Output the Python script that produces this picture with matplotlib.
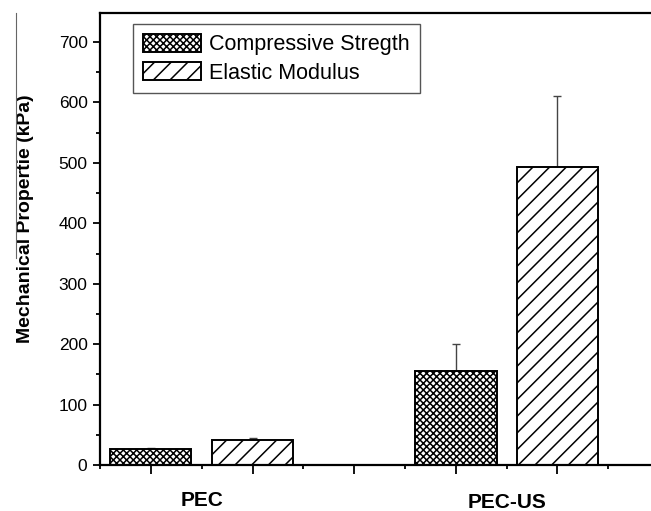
import numpy as np
import matplotlib
matplotlib.use("Agg")
import matplotlib.pyplot as plt
from matplotlib.ticker import MultipleLocator, NullFormatter
from matplotlib.lines import Line2D
from matplotlib.transforms import ScaledTranslation

plt.rcParams['font.family'] = ['Liberation Sans', 'DejaVu Sans']
plt.rcParams['hatch.linewidth'] = 1.1

# data (kPa)
groups = ['PEC', 'PEC-US']
series = ['Compressive Stregth', 'Elastic Modulus']
compressive = [26, 155]
compressive_err = [2, 45]
elastic = [41, 493]
elastic_err = [4, 117]

# bar positions: groups sit on 1,2 and 4,5
comp_x = np.array([1, 4])
elas_x = np.array([2, 5])
group_x = [1.5, 4.5]

fig = plt.figure(figsize=(6.51, 5.11), dpi=100)
W, H = 651, 511
ax = fig.add_axes([100 / W, 46 / H, 610 / W, 452 / H])

bw = 0.8
ax.bar(comp_x, compressive, bw, facecolor='white', edgecolor='black', linewidth=1.4,
       hatch='xxxxx', label=series[0], zorder=2)
ax.bar(elas_x, elastic, bw, facecolor='white', edgecolor='black', linewidth=1.4,
       hatch='//', label=series[1], zorder=2)

# upper error bars only
ax.errorbar(comp_x, compressive, yerr=[np.zeros(2), compressive_err], fmt='none',
            ecolor='#444444', elinewidth=1.0, capsize=3, capthick=1.0, zorder=1)
ax.errorbar(elas_x, elastic, yerr=[np.zeros(2), elastic_err], fmt='none',
            ecolor='#444444', elinewidth=1.0, capsize=3, capthick=1.0, zorder=1)

ax.set_xlim(0.5, 6.5)
ax.set_ylim(0, 748)

ax.xaxis.set_major_locator(MultipleLocator(1))
ax.xaxis.set_minor_locator(MultipleLocator(0.5))
ax.xaxis.set_major_formatter(NullFormatter())
ax.yaxis.set_major_locator(MultipleLocator(100))
ax.yaxis.set_minor_locator(MultipleLocator(50))

ax.tick_params(axis='both', which='major', direction='out', width=1.3, labelsize=12.5, pad=4)
ax.tick_params(axis='x', which='major', length=6.5)
ax.tick_params(axis='y', which='major', length=5)
ax.tick_params(axis='both', which='minor', direction='out', width=1.3, length=3.2)
ax.tick_params(top=False, right=False)

for s in ['left', 'bottom', 'top', 'right']:
    ax.spines[s].set_linewidth(1.6)

# group labels below the axis (PEC-US sits a little lower in the original)
for gx, name, dy in zip(group_x, groups, [-41, -43]):
    ax.text(gx, 0, name, ha='center', va='baseline', fontsize=15, fontweight='bold',
            transform=ax.get_xaxis_transform() + ScaledTranslation(0, dy / 100, fig.dpi_scale_trans))

ax.set_ylabel('Mechanical Propertie (kPa)', fontsize=14, fontweight='bold')
ax.yaxis.set_label_coords(-66 / 610, 0.545)

leg = ax.legend(loc='upper left', bbox_to_anchor=(133 / W, 1 - 24 / H),
                bbox_transform=fig.transFigure, fontsize=15.5, frameon=True,
                fancybox=False, edgecolor='#555555', framealpha=1,
                handlelength=2.7, handleheight=0.95, handletextpad=0.4,
                labelspacing=0.3, borderpad=0.45, borderaxespad=0)
leg.get_frame().set_linewidth(1.0)

# thin crop edge line at far left
fig.add_artist(Line2D([15.5 / W, 15.5 / W], [1 - 13 / H, 1 - 258 / H],
                      color='#666666', linewidth=0.8))

fig.savefig('out.png', dpi=100)
